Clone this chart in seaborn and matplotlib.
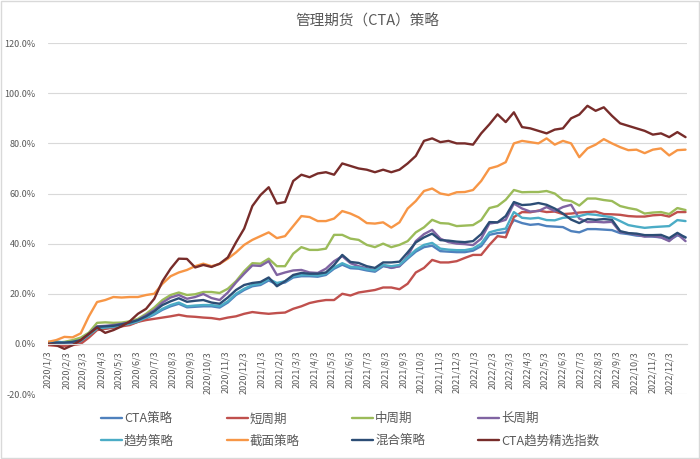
import pandas as pd
import numpy as np
import matplotlib
matplotlib.use('Agg')
import matplotlib.pyplot as plt
import matplotlib.dates as mdates
from matplotlib.ticker import FuncFormatter
from matplotlib.patches import Rectangle
import seaborn as sns

# biweekly observation dates (Fridays)
dates = pd.date_range(start='2020-01-03', periods=79, freq='14D')

# cumulative returns in %
cta = [0, 0.3, 0, 0.3, 0.8, 3, 5.8, 6.2, 6.6, 7.3, 7.8, 8.8, 10.2, 11.7, 13.6, 15, 16, 14.6, 14.8, 15,
       15, 14.5, 16.5, 19.5, 21.5, 23, 23.5, 25.3, 23.8, 24.5, 26.5, 27, 27, 26.8, 27.5, 30, 31.6, 30.2, 30, 29.3,
       28.8, 31, 30.4, 31, 34, 36.8, 38.6, 39.2, 37, 36.8, 36.6, 36.6, 37.2, 39, 43.5, 44.2, 44.5, 49.4, 48.2, 47.5,
       47.8, 47, 46.8, 46.6, 45, 44.5, 45.8, 45.8, 45.6, 45.4, 44.2, 43.8, 43.2, 43, 42.8, 42.5, 41.4, 43.3, 42.6]
short_cycle = [-0.5, -0.8, -0.8, -0.5, 0, 2.5, 5.5, 6, 6.5, 7, 7.5, 8.8, 9.5, 10, 10.5, 11, 11.6, 11, 10.8, 10.5,
               10.3, 9.8, 10.5, 11, 12, 12.7, 12.3, 12, 12.3, 12.5, 14, 15, 16.3, 17, 17.5, 17.5, 20, 19.3, 20.5, 21,
               21.5, 22.5, 22.5, 21.8, 24, 28.5, 30.3, 33.5, 32.5, 32.5, 33, 34.3, 35.5, 35.5, 39.5, 43, 42.5, 50.6, 52.6, 52.5,
               53.2, 52.6, 52.8, 51.8, 52, 52.4, 52.6, 52.8, 51.8, 51.7, 51.5, 51, 50.8, 50.8, 51.3, 51.5, 50.8, 52.6, 52.6]
mid_cycle = [0.8, 0.5, 0.8, 1.5, 2.5, 4.5, 8.4, 8.6, 8.4, 8.5, 9, 10, 12, 14.5, 17.5, 19.5, 20.5, 19.5, 19.8, 20.7,
             20.7, 20.3, 22, 25, 29, 32.2, 32, 34, 31, 31, 36, 38.6, 37.5, 37.5, 38, 43.5, 43.5, 42, 41.5, 39.5,
             38.6, 40, 38.6, 39.5, 41, 44.5, 46.5, 49.5, 48.2, 48, 47, 47.2, 47.4, 49.4, 54.2, 55, 57.5, 61.4, 60.5, 60.6,
             60.6, 61, 60, 57.4, 57, 55.2, 58, 58, 57.4, 57, 55, 54.2, 53.6, 52, 52.4, 52.6, 51.8, 54.2, 53.4]
long_cycle = [0.2, 0, 0.3, 0.5, 1.5, 4, 7, 7.2, 7.5, 8, 8.5, 9.5, 11.5, 13.5, 16.5, 18.5, 19.5, 18, 18.7, 19.9,
              18.3, 17.5, 20.5, 24.5, 28, 31.3, 31.1, 33, 27.5, 28.5, 29.3, 29.5, 28.5, 28.3, 30, 33, 35, 32.2, 31, 30.2,
              29.3, 31.5, 30.3, 31, 35, 41, 43.8, 45.5, 42, 40.6, 40, 39.8, 39.4, 42, 48, 48.5, 49.5, 56, 54, 52.8,
              53, 54.6, 53, 54.6, 55.5, 50, 48.6, 48.7, 48.5, 48.7, 44.6, 44.2, 43.6, 42.8, 43, 42.5, 41, 43.8, 41]
trend = [0.5, 1, 0.5, 0.8, 1.2, 3.5, 6, 6.5, 6.8, 7.5, 8, 9, 10.5, 12, 14, 15.5, 16.5, 15, 15.3, 15.5,
         15.5, 15, 17, 20, 22, 23.5, 24, 25.9, 24.3, 25, 27, 27.5, 27.5, 27.3, 28, 30.5, 32.2, 30.8, 30.5, 29.8,
         29.3, 31.5, 31, 31.5, 34.5, 37.5, 39.5, 40.3, 38, 37.6, 37.4, 37.4, 38, 40, 44.5, 45.4, 46, 52.6, 50.3, 50,
         50.3, 49.4, 49.3, 50.3, 50.6, 51, 51.8, 51.5, 51, 50.5, 49, 47.4, 46.8, 46.3, 46.6, 46.8, 47, 49.4, 49]
cross_section = [0.8, 1.5, 2.8, 2.6, 4.2, 11, 16.7, 17.5, 18.7, 18.5, 18.7, 18.7, 19.5, 20, 24, 27, 28.5, 29.5, 31, 32,
                 31, 31.9, 34, 36.5, 39.5, 41.5, 43, 44.5, 42.2, 43, 47, 51, 50.6, 49, 49, 50, 53, 52, 50.5, 48.2,
                 48, 48.5, 46.4, 48.5, 54, 57, 61, 62, 60, 59.4, 60.5, 60.6, 61.4, 65, 70, 70.9, 72.5, 80, 81, 80.5,
                 80, 82, 79.5, 81, 80, 74.5, 78, 79.5, 81.7, 80, 78.5, 77.3, 77.5, 76.1, 77.5, 78, 75.2, 77.3, 77.5]
mixed = [0, 0.5, 0.5, 0.8, 1.5, 4, 6.8, 7, 7.2, 7.8, 8.5, 9.5, 11, 13, 15.5, 17, 18.2, 16.8, 17.2, 17.5,
         16.5, 16, 18.5, 21.5, 23.5, 24.3, 24.7, 26.5, 23, 25, 27.5, 28.3, 28, 28, 28.5, 31.5, 35.5, 32.7, 32.3, 31,
         30.3, 32.5, 32.5, 32.8, 36.5, 40.5, 42.5, 44, 41.4, 41.2, 40.8, 40.6, 41, 43.8, 48.6, 48.5, 51, 56.6, 55.4, 55.6,
         56.2, 55.5, 54, 52, 49.6, 48.2, 49.8, 49.5, 49.8, 49.5, 45, 44.2, 44, 43.4, 43.4, 43.5, 42.2, 44.3, 42.4]
trend_index = [0, -0.5, -2, -0.5, 1.5, 4, 6.5, 4.4, 5.5, 7, 9, 12, 14, 18, 25, 30, 34, 33.9, 30.5, 31.5,
               30.7, 32, 34.5, 40.5, 46, 55, 59.4, 62.5, 56, 56.6, 65, 67.5, 66.5, 68, 68.5, 67.5, 72, 71, 70, 69.5,
               68.5, 69.5, 68.5, 69.5, 72, 75, 81, 82, 80.5, 81, 80, 80, 79.5, 84, 87.6, 91.6, 88.5, 92.4, 86.5, 86,
               85, 84, 85.5, 86, 90, 91.5, 95, 93, 94.4, 91, 88, 87, 86, 85, 83.5, 84, 82.5, 84.5, 82.5]

labels = ['CTA策略', '短周期', '中周期', '长周期', '趋势策略', '截面策略', '混合策略', 'CTA趋势精选指数']
series = [cta, short_cycle, mid_cycle, long_cycle, trend, cross_section, mixed, trend_index]
colors = ['#4F81BD', '#C0504D', '#9BBB59', '#8064A2', '#4BACC6', '#F79646', '#2C4D75', '#772C2A']

sns.set_style('white')
plt.rcParams['font.family'] = ['Noto Sans CJK SC', 'DejaVu Sans']

fig = plt.figure(figsize=(7, 4.59), dpi=100)
ax = fig.add_axes([0.0686, 0.1416, 0.9124, 0.7644])

for name, vals, col in zip(labels, series, colors):
    sns.lineplot(x=dates, y=vals, color=col, linewidth=1.7, label=name, ax=ax)

text_color = '#595959'
grid_color = '#D9D9D9'

ax.set_ylim(-20, 120)
ax.set_yticks(np.arange(-20, 121, 20))
ax.yaxis.set_major_formatter(FuncFormatter(lambda v, p: f'{v:.1f}%'))
ax.set_xlim(pd.Timestamp('2020-01-03'), pd.Timestamp('2023-01-01'))
ax.xaxis.set_major_locator(mdates.MonthLocator(bymonthday=3))
ax.xaxis.set_major_formatter(FuncFormatter(
    lambda v, p: f'{mdates.num2date(v).year}/{mdates.num2date(v).month}/{mdates.num2date(v).day}'))

ax.grid(axis='y', color=grid_color, linewidth=0.8)
ax.set_axisbelow(True)
for s in ['top', 'right', 'left']:
    ax.spines[s].set_visible(False)
ax.spines['bottom'].set_position(('data', 0))
ax.spines['bottom'].set_color(grid_color)
ax.spines['bottom'].set_linewidth(0.8)

ax.tick_params(axis='y', length=0, pad=9, labelsize=6.5, labelcolor=text_color)
ax.tick_params(axis='x', length=3, width=0.8, color=grid_color, pad=2,
               labelsize=6.5, labelcolor=text_color, labelrotation=90)
ax.set_xlabel('')
ax.set_ylabel('')

ax.set_title('管理期货（CTA）策略', fontsize=10.5, color=text_color, pad=0, y=1.05)

# legend in two rows, filled row by row like Excel
handles, names = ax.get_legend_handles_labels()
order = [0, 4, 1, 5, 2, 6, 3, 7]
ax.legend([handles[i] for i in order], [names[i] for i in order],
          ncol=4, loc='center', bbox_to_anchor=(0.5, 0.063), bbox_transform=fig.transFigure,
          frameon=False, fontsize=9, handlelength=1.7, handletextpad=0.15,
          columnspacing=4.2, labelspacing=0.75, labelcolor=text_color)

fig.patches.append(Rectangle((0.001, 0.002), 0.997, 0.996, transform=fig.transFigure,
                             fill=False, edgecolor=grid_color, linewidth=1))

fig.savefig('out.png', dpi=100)
